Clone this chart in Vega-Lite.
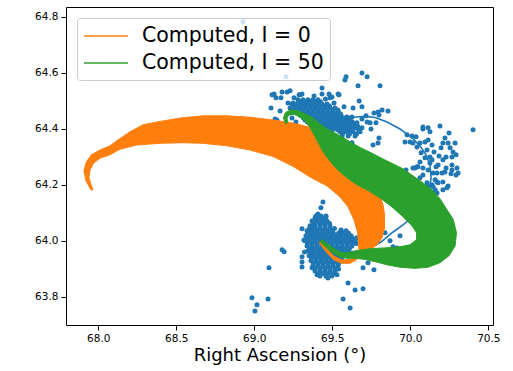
{
  "$schema": "https://vega.github.io/schema/vega-lite/v6.json",
  "width": 427,
  "height": 318,
  "autosize": {"type": "none"},
  "padding": {"left": 66, "top": 7, "right": 20, "bottom": 46},
  "background": "white",
  "config": {
    "font": "DejaVu Sans",
    "view": {"stroke": "black", "strokeWidth": 1},
    "axis": {
      "grid": false,
      "domain": false,
      "tickColor": "black",
      "tickSize": 5,
      "tickWidth": 1,
      "labelColor": "black",
      "labelFont": "DejaVu Sans",
      "labelFontSize": 10.5,
      "labelPadding": 3,
      "labelFlush": false,
      "titleFont": "DejaVu Sans",
      "titleFontWeight": "normal",
      "titleColor": "black"
    },
    "legend": {
      "orient": "none",
      "legendX": 11,
      "legendY": 11,
      "symbolType": "M-1,0H3",
      "symbolSize": 484,
      "symbolStrokeWidth": 1.6,
      "labelFont": "DejaVu Sans",
      "labelFontSize": 20.5,
      "labelColor": "black",
      "labelOffset": 35,
      "labelLimit": 400,
      "rowPadding": 4,
      "padding": 6,
      "fillColor": "rgba(255,255,255,0.8)",
      "strokeColor": "#cccccc",
      "cornerRadius": 3
    }
  },
  "datasets": {
    "stars": [
      {"ra": 68.928, "dec": 64.781}, {"ra": 69.203, "dec": 64.585}, {"ra": 69.690, "dec": 64.599}, {"ra": 69.723, "dec": 64.585},
      {"ra": 69.588, "dec": 64.585}, {"ra": 69.581, "dec": 64.574}, {"ra": 69.665, "dec": 64.553}, {"ra": 69.806, "dec": 64.553},
      {"ra": 69.434, "dec": 64.545}, {"ra": 69.293, "dec": 64.521}, {"ra": 69.485, "dec": 64.510}, {"ra": 69.543, "dec": 64.521},
      {"ra": 69.672, "dec": 64.499}, {"ra": 69.633, "dec": 64.474}, {"ra": 69.690, "dec": 64.478}, {"ra": 69.819, "dec": 64.467},
      {"ra": 69.857, "dec": 64.463}, {"ra": 69.793, "dec": 64.460}, {"ra": 69.767, "dec": 64.456}, {"ra": 69.799, "dec": 64.449},
      {"ra": 69.780, "dec": 64.421}, {"ra": 69.799, "dec": 64.367}, {"ra": 69.761, "dec": 64.342}, {"ra": 69.594, "dec": 64.442},
      {"ra": 69.658, "dec": 64.421}, {"ra": 69.614, "dec": 64.389}, {"ra": 69.626, "dec": 64.350}, {"ra": 69.569, "dec": 64.360},
      {"ra": 69.537, "dec": 64.446}, {"ra": 69.562, "dec": 64.371}, {"ra": 69.742, "dec": 64.421}, {"ra": 69.723, "dec": 64.424},
      {"ra": 69.626, "dec": 64.442}, {"ra": 69.793, "dec": 64.349}, {"ra": 69.114, "dec": 64.521}, {"ra": 69.171, "dec": 64.510},
      {"ra": 69.178, "dec": 64.531}, {"ra": 69.229, "dec": 64.535}, {"ra": 69.287, "dec": 64.521}, {"ra": 69.210, "dec": 64.531},
      {"ra": 69.127, "dec": 64.524}, {"ra": 69.107, "dec": 64.474}, {"ra": 69.145, "dec": 64.431}, {"ra": 69.178, "dec": 64.410},
      {"ra": 69.165, "dec": 64.463}, {"ra": 69.139, "dec": 64.510}, {"ra": 69.216, "dec": 64.492}, {"ra": 69.248, "dec": 64.492},
      {"ra": 69.306, "dec": 64.524}, {"ra": 69.434, "dec": 64.524}, {"ra": 69.479, "dec": 64.524}, {"ra": 69.498, "dec": 64.513},
      {"ra": 69.537, "dec": 64.524}, {"ra": 69.363, "dec": 64.496}, {"ra": 69.408, "dec": 64.492}, {"ra": 69.133, "dec": 64.435},
      {"ra": 69.145, "dec": 64.414}, {"ra": 69.242, "dec": 64.438}, {"ra": 69.267, "dec": 64.424},
      {"ra": 69.255, "dec": 64.510}, {"ra": 69.383, "dec": 64.517}, {"ra": 69.456, "dec": 64.506}, {"ra": 69.511, "dec": 64.492},
      {"ra": 69.575, "dec": 64.478}, {"ra": 69.690, "dec": 64.435}, {"ra": 69.716, "dec": 64.446}, {"ra": 69.748, "dec": 64.399},

      {"ra": 69.280, "dec": 64.503}, {"ra": 69.312, "dec": 64.503}, {"ra": 69.344, "dec": 64.503}, {"ra": 69.376, "dec": 64.503}, {"ra": 69.408, "dec": 64.503},
      {"ra": 69.242, "dec": 64.488}, {"ra": 69.274, "dec": 64.488}, {"ra": 69.306, "dec": 64.488}, {"ra": 69.338, "dec": 64.488}, {"ra": 69.370, "dec": 64.488},
      {"ra": 69.402, "dec": 64.488}, {"ra": 69.434, "dec": 64.488}, {"ra": 69.466, "dec": 64.488},
      {"ra": 69.229, "dec": 64.474}, {"ra": 69.261, "dec": 64.474}, {"ra": 69.293, "dec": 64.474}, {"ra": 69.325, "dec": 64.474}, {"ra": 69.357, "dec": 64.474},
      {"ra": 69.389, "dec": 64.474}, {"ra": 69.421, "dec": 64.474}, {"ra": 69.453, "dec": 64.474}, {"ra": 69.485, "dec": 64.474}, {"ra": 69.517, "dec": 64.474},
      {"ra": 69.280, "dec": 64.460}, {"ra": 69.312, "dec": 64.460}, {"ra": 69.344, "dec": 64.460}, {"ra": 69.376, "dec": 64.460}, {"ra": 69.408, "dec": 64.460},
      {"ra": 69.440, "dec": 64.460}, {"ra": 69.472, "dec": 64.460}, {"ra": 69.504, "dec": 64.460}, {"ra": 69.537, "dec": 64.460},
      {"ra": 69.299, "dec": 64.446}, {"ra": 69.331, "dec": 64.446}, {"ra": 69.363, "dec": 64.446}, {"ra": 69.395, "dec": 64.446}, {"ra": 69.427, "dec": 64.446},
      {"ra": 69.459, "dec": 64.446}, {"ra": 69.491, "dec": 64.446}, {"ra": 69.524, "dec": 64.446}, {"ra": 69.556, "dec": 64.446},
      {"ra": 69.325, "dec": 64.431}, {"ra": 69.357, "dec": 64.431}, {"ra": 69.389, "dec": 64.431}, {"ra": 69.421, "dec": 64.431}, {"ra": 69.453, "dec": 64.431},
      {"ra": 69.485, "dec": 64.431}, {"ra": 69.517, "dec": 64.431}, {"ra": 69.549, "dec": 64.431}, {"ra": 69.581, "dec": 64.431}, {"ra": 69.614, "dec": 64.431},
      {"ra": 69.357, "dec": 64.417}, {"ra": 69.389, "dec": 64.417}, {"ra": 69.421, "dec": 64.417}, {"ra": 69.453, "dec": 64.417}, {"ra": 69.485, "dec": 64.417},
      {"ra": 69.517, "dec": 64.417}, {"ra": 69.549, "dec": 64.417}, {"ra": 69.581, "dec": 64.417}, {"ra": 69.614, "dec": 64.417}, {"ra": 69.646, "dec": 64.417},
      {"ra": 69.453, "dec": 64.403}, {"ra": 69.485, "dec": 64.403}, {"ra": 69.517, "dec": 64.403}, {"ra": 69.549, "dec": 64.403}, {"ra": 69.581, "dec": 64.403},
      {"ra": 69.614, "dec": 64.403}, {"ra": 69.652, "dec": 64.403}, {"ra": 69.690, "dec": 64.403},
      {"ra": 69.549, "dec": 64.389}, {"ra": 69.588, "dec": 64.389}, {"ra": 69.633, "dec": 64.389}, {"ra": 69.678, "dec": 64.389},
      {"ra": 69.601, "dec": 64.374}, {"ra": 69.646, "dec": 64.374},

      {"ra": 69.296, "dec": 64.496}, {"ra": 69.328, "dec": 64.496}, {"ra": 69.360, "dec": 64.496}, {"ra": 69.392, "dec": 64.496}, {"ra": 69.424, "dec": 64.496},
      {"ra": 69.258, "dec": 64.481}, {"ra": 69.290, "dec": 64.481}, {"ra": 69.322, "dec": 64.481}, {"ra": 69.354, "dec": 64.481}, {"ra": 69.386, "dec": 64.481},
      {"ra": 69.418, "dec": 64.481}, {"ra": 69.450, "dec": 64.481}, {"ra": 69.482, "dec": 64.481},
      {"ra": 69.248, "dec": 64.467}, {"ra": 69.280, "dec": 64.467}, {"ra": 69.312, "dec": 64.467}, {"ra": 69.344, "dec": 64.467}, {"ra": 69.376, "dec": 64.467},
      {"ra": 69.408, "dec": 64.467}, {"ra": 69.440, "dec": 64.467}, {"ra": 69.472, "dec": 64.467}, {"ra": 69.504, "dec": 64.467}, {"ra": 69.536, "dec": 64.467},
      {"ra": 69.296, "dec": 64.453}, {"ra": 69.328, "dec": 64.453}, {"ra": 69.360, "dec": 64.453}, {"ra": 69.392, "dec": 64.453}, {"ra": 69.424, "dec": 64.453},
      {"ra": 69.456, "dec": 64.453}, {"ra": 69.488, "dec": 64.453}, {"ra": 69.520, "dec": 64.453}, {"ra": 69.552, "dec": 64.453},
      {"ra": 69.315, "dec": 64.438}, {"ra": 69.347, "dec": 64.438}, {"ra": 69.379, "dec": 64.438}, {"ra": 69.411, "dec": 64.438}, {"ra": 69.443, "dec": 64.438},
      {"ra": 69.475, "dec": 64.438}, {"ra": 69.507, "dec": 64.438}, {"ra": 69.539, "dec": 64.438}, {"ra": 69.571, "dec": 64.438}, {"ra": 69.603, "dec": 64.438},
      {"ra": 69.341, "dec": 64.424}, {"ra": 69.373, "dec": 64.424}, {"ra": 69.405, "dec": 64.424}, {"ra": 69.437, "dec": 64.424}, {"ra": 69.469, "dec": 64.424},
      {"ra": 69.501, "dec": 64.424}, {"ra": 69.533, "dec": 64.424}, {"ra": 69.565, "dec": 64.424}, {"ra": 69.597, "dec": 64.424}, {"ra": 69.629, "dec": 64.424},
      {"ra": 69.373, "dec": 64.410}, {"ra": 69.405, "dec": 64.410}, {"ra": 69.437, "dec": 64.410}, {"ra": 69.469, "dec": 64.410}, {"ra": 69.501, "dec": 64.410},
      {"ra": 69.533, "dec": 64.410}, {"ra": 69.565, "dec": 64.410}, {"ra": 69.597, "dec": 64.410}, {"ra": 69.630, "dec": 64.410}, {"ra": 69.662, "dec": 64.410},
      {"ra": 69.469, "dec": 64.396}, {"ra": 69.501, "dec": 64.396}, {"ra": 69.533, "dec": 64.396}, {"ra": 69.565, "dec": 64.396}, {"ra": 69.597, "dec": 64.396},
      {"ra": 69.630, "dec": 64.396}, {"ra": 69.668, "dec": 64.396},
      {"ra": 69.565, "dec": 64.381}, {"ra": 69.610, "dec": 64.381}, {"ra": 69.655, "dec": 64.381},

      {"ra": 70.402, "dec": 64.396}, {"ra": 70.190, "dec": 64.410}, {"ra": 70.114, "dec": 64.403}, {"ra": 70.081, "dec": 64.399},
      {"ra": 70.126, "dec": 64.389}, {"ra": 70.248, "dec": 64.385}, {"ra": 70.222, "dec": 64.367}, {"ra": 70.287, "dec": 64.349},
      {"ra": 70.209, "dec": 64.349}, {"ra": 70.255, "dec": 64.332}, {"ra": 70.197, "dec": 64.332}, {"ra": 70.274, "dec": 64.317},
      {"ra": 70.229, "dec": 64.299}, {"ra": 70.293, "dec": 64.307}, {"ra": 70.267, "dec": 64.271}, {"ra": 70.229, "dec": 64.260},
      {"ra": 70.299, "dec": 64.260}, {"ra": 70.293, "dec": 64.235}, {"ra": 70.203, "dec": 64.242}, {"ra": 70.242, "dec": 64.196},
      {"ra": 70.209, "dec": 64.210}, {"ra": 70.178, "dec": 64.271}, {"ra": 70.139, "dec": 64.289}, {"ra": 70.159, "dec": 64.218},
      {"ra": 70.139, "dec": 64.200}, {"ra": 70.114, "dec": 64.193}, {"ra": 70.159, "dec": 64.182}, {"ra": 70.171, "dec": 64.171},
      {"ra": 70.107, "dec": 64.175}, {"ra": 70.081, "dec": 64.235}, {"ra": 70.062, "dec": 64.225}, {"ra": 70.043, "dec": 64.264},
      {"ra": 70.030, "dec": 64.260}, {"ra": 70.081, "dec": 64.260}, {"ra": 70.062, "dec": 64.281}, {"ra": 70.094, "dec": 64.296},
      {"ra": 70.126, "dec": 64.299}, {"ra": 70.043, "dec": 64.335}, {"ra": 70.062, "dec": 64.349}, {"ra": 70.094, "dec": 64.353},
      {"ra": 70.114, "dec": 64.360}, {"ra": 70.017, "dec": 64.349}, {"ra": 69.966, "dec": 64.353}, {"ra": 69.979, "dec": 64.378},
      {"ra": 70.011, "dec": 64.374}, {"ra": 70.037, "dec": 64.371}, {"ra": 70.139, "dec": 64.342}, {"ra": 70.107, "dec": 64.324},
      {"ra": 70.126, "dec": 64.278}, {"ra": 70.114, "dec": 64.253}, {"ra": 70.146, "dec": 64.242}, {"ra": 69.972, "dec": 64.253},
      {"ra": 70.081, "dec": 64.406}, {"ra": 70.242, "dec": 64.349}, {"ra": 70.267, "dec": 64.299}, {"ra": 70.209, "dec": 64.289},
      {"ra": 70.049, "dec": 64.264}, {"ra": 70.017, "dec": 64.260}, {"ra": 70.171, "dec": 64.242}, {"ra": 70.306, "dec": 64.242},
      {"ra": 70.267, "dec": 64.253}, {"ra": 70.171, "dec": 64.210}, {"ra": 70.209, "dec": 64.182}, {"ra": 70.235, "dec": 64.189},
      {"ra": 70.126, "dec": 64.164}, {"ra": 69.806, "dec": 64.278}, {"ra": 69.851, "dec": 64.271}, {"ra": 70.069, "dec": 64.314},
      {"ra": 70.165, "dec": 64.264}, {"ra": 70.222, "dec": 64.246}, {"ra": 70.261, "dec": 64.239}, {"ra": 70.107, "dec": 64.207},
      {"ra": 70.146, "dec": 64.193}, {"ra": 70.178, "dec": 64.207}, {"ra": 69.998, "dec": 64.353}, {"ra": 70.152, "dec": 64.317},
      {"ra": 70.184, "dec": 64.303},

      {"ra": 69.838, "dec": 64.029}, {"ra": 69.915, "dec": 63.975}, {"ra": 69.870, "dec": 64.000}, {"ra": 69.934, "dec": 64.018},
      {"ra": 69.889, "dec": 63.979}, {"ra": 69.697, "dec": 64.004},
      {"ra": 69.440, "dec": 64.139}, {"ra": 69.427, "dec": 64.118}, {"ra": 69.459, "dec": 64.086}, {"ra": 69.389, "dec": 64.082},
      {"ra": 69.376, "dec": 64.068}, {"ra": 69.434, "dec": 64.064}, {"ra": 69.376, "dec": 64.050}, {"ra": 69.306, "dec": 64.043},
      {"ra": 69.556, "dec": 64.039}, {"ra": 69.594, "dec": 64.029}, {"ra": 69.614, "dec": 64.014}, {"ra": 69.658, "dec": 64.011},
      {"ra": 69.633, "dec": 63.997}, {"ra": 69.178, "dec": 63.968}, {"ra": 69.191, "dec": 63.961}, {"ra": 69.306, "dec": 63.943},
      {"ra": 69.306, "dec": 63.925}, {"ra": 69.094, "dec": 63.904}, {"ra": 69.306, "dec": 63.907}, {"ra": 69.370, "dec": 63.904},
      {"ra": 69.402, "dec": 63.879}, {"ra": 69.472, "dec": 63.868}, {"ra": 69.530, "dec": 63.879}, {"ra": 69.697, "dec": 63.904},
      {"ra": 69.729, "dec": 63.922}, {"ra": 69.767, "dec": 63.897}, {"ra": 69.601, "dec": 63.850}, {"ra": 69.646, "dec": 63.825},
      {"ra": 69.697, "dec": 63.829}, {"ra": 69.569, "dec": 63.793}, {"ra": 69.614, "dec": 63.761}, {"ra": 68.985, "dec": 63.797},
      {"ra": 69.017, "dec": 63.772}, {"ra": 69.004, "dec": 63.750}, {"ra": 69.088, "dec": 63.793}, {"ra": 69.408, "dec": 64.096},
      {"ra": 69.344, "dec": 64.029}, {"ra": 69.318, "dec": 64.003}, {"ra": 69.322, "dec": 63.960}, {"ra": 69.540, "dec": 63.900},

      {"ra": 69.395, "dec": 64.089}, {"ra": 69.427, "dec": 64.089}, {"ra": 69.459, "dec": 64.089},
      {"ra": 69.370, "dec": 64.071}, {"ra": 69.402, "dec": 64.071}, {"ra": 69.434, "dec": 64.071}, {"ra": 69.466, "dec": 64.071},
      {"ra": 69.357, "dec": 64.054}, {"ra": 69.389, "dec": 64.054}, {"ra": 69.421, "dec": 64.054}, {"ra": 69.453, "dec": 64.054}, {"ra": 69.485, "dec": 64.054},
      {"ra": 69.338, "dec": 64.036}, {"ra": 69.370, "dec": 64.036}, {"ra": 69.402, "dec": 64.036}, {"ra": 69.434, "dec": 64.036}, {"ra": 69.466, "dec": 64.036},
      {"ra": 69.498, "dec": 64.036}, {"ra": 69.556, "dec": 64.036}, {"ra": 69.588, "dec": 64.036},
      {"ra": 69.331, "dec": 64.018}, {"ra": 69.363, "dec": 64.018}, {"ra": 69.395, "dec": 64.018}, {"ra": 69.427, "dec": 64.018}, {"ra": 69.459, "dec": 64.018},
      {"ra": 69.491, "dec": 64.018}, {"ra": 69.524, "dec": 64.018}, {"ra": 69.556, "dec": 64.018}, {"ra": 69.588, "dec": 64.018}, {"ra": 69.620, "dec": 64.018},
      {"ra": 69.325, "dec": 64.000}, {"ra": 69.357, "dec": 64.000}, {"ra": 69.389, "dec": 64.000}, {"ra": 69.421, "dec": 64.000}, {"ra": 69.453, "dec": 64.000},
      {"ra": 69.485, "dec": 64.000}, {"ra": 69.517, "dec": 64.000}, {"ra": 69.549, "dec": 64.000}, {"ra": 69.581, "dec": 64.000}, {"ra": 69.614, "dec": 64.000},
      {"ra": 69.646, "dec": 64.000},
      {"ra": 69.338, "dec": 63.982}, {"ra": 69.370, "dec": 63.982}, {"ra": 69.402, "dec": 63.982}, {"ra": 69.434, "dec": 63.982}, {"ra": 69.466, "dec": 63.982},
      {"ra": 69.498, "dec": 63.982}, {"ra": 69.530, "dec": 63.982}, {"ra": 69.562, "dec": 63.982}, {"ra": 69.594, "dec": 63.982}, {"ra": 69.626, "dec": 63.982},
      {"ra": 69.344, "dec": 63.964}, {"ra": 69.376, "dec": 63.964}, {"ra": 69.408, "dec": 63.964}, {"ra": 69.440, "dec": 63.964}, {"ra": 69.472, "dec": 63.964},
      {"ra": 69.504, "dec": 63.964}, {"ra": 69.537, "dec": 63.964}, {"ra": 69.569, "dec": 63.964}, {"ra": 69.601, "dec": 63.964},
      {"ra": 69.351, "dec": 63.947}, {"ra": 69.383, "dec": 63.947}, {"ra": 69.415, "dec": 63.947}, {"ra": 69.447, "dec": 63.947}, {"ra": 69.479, "dec": 63.947},
      {"ra": 69.511, "dec": 63.947}, {"ra": 69.543, "dec": 63.947}, {"ra": 69.575, "dec": 63.947},
      {"ra": 69.363, "dec": 63.929}, {"ra": 69.395, "dec": 63.929}, {"ra": 69.427, "dec": 63.929}, {"ra": 69.459, "dec": 63.929}, {"ra": 69.491, "dec": 63.929},
      {"ra": 69.524, "dec": 63.929}, {"ra": 69.556, "dec": 63.929},
      {"ra": 69.376, "dec": 63.911}, {"ra": 69.408, "dec": 63.911}, {"ra": 69.440, "dec": 63.911}, {"ra": 69.472, "dec": 63.911}, {"ra": 69.504, "dec": 63.911},
      {"ra": 69.537, "dec": 63.911},
      {"ra": 69.389, "dec": 63.893}, {"ra": 69.421, "dec": 63.893}, {"ra": 69.453, "dec": 63.893}, {"ra": 69.485, "dec": 63.893}, {"ra": 69.517, "dec": 63.893},
      {"ra": 69.421, "dec": 63.875}, {"ra": 69.459, "dec": 63.875}, {"ra": 69.498, "dec": 63.875},

      {"ra": 69.411, "dec": 64.080}, {"ra": 69.443, "dec": 64.080},
      {"ra": 69.386, "dec": 64.062}, {"ra": 69.418, "dec": 64.062}, {"ra": 69.450, "dec": 64.062}, {"ra": 69.482, "dec": 64.062},
      {"ra": 69.354, "dec": 64.044}, {"ra": 69.386, "dec": 64.044}, {"ra": 69.418, "dec": 64.044}, {"ra": 69.450, "dec": 64.044}, {"ra": 69.482, "dec": 64.044},
      {"ra": 69.514, "dec": 64.044},
      {"ra": 69.347, "dec": 64.027}, {"ra": 69.379, "dec": 64.027}, {"ra": 69.411, "dec": 64.027}, {"ra": 69.443, "dec": 64.027}, {"ra": 69.475, "dec": 64.027},
      {"ra": 69.507, "dec": 64.027}, {"ra": 69.540, "dec": 64.027}, {"ra": 69.572, "dec": 64.027}, {"ra": 69.604, "dec": 64.027},
      {"ra": 69.341, "dec": 64.009}, {"ra": 69.373, "dec": 64.009}, {"ra": 69.405, "dec": 64.009}, {"ra": 69.437, "dec": 64.009}, {"ra": 69.469, "dec": 64.009},
      {"ra": 69.501, "dec": 64.009}, {"ra": 69.533, "dec": 64.009}, {"ra": 69.565, "dec": 64.009}, {"ra": 69.597, "dec": 64.009}, {"ra": 69.630, "dec": 64.009},
      {"ra": 69.341, "dec": 63.991}, {"ra": 69.373, "dec": 63.991}, {"ra": 69.405, "dec": 63.991}, {"ra": 69.437, "dec": 63.991}, {"ra": 69.469, "dec": 63.991},
      {"ra": 69.501, "dec": 63.991}, {"ra": 69.533, "dec": 63.991}, {"ra": 69.565, "dec": 63.991}, {"ra": 69.597, "dec": 63.991}, {"ra": 69.630, "dec": 63.991},
      {"ra": 69.655, "dec": 63.991},
      {"ra": 69.354, "dec": 63.973}, {"ra": 69.386, "dec": 63.973}, {"ra": 69.418, "dec": 63.973}, {"ra": 69.450, "dec": 63.973}, {"ra": 69.482, "dec": 63.973},
      {"ra": 69.514, "dec": 63.973}, {"ra": 69.546, "dec": 63.973}, {"ra": 69.578, "dec": 63.973}, {"ra": 69.610, "dec": 63.973},
      {"ra": 69.360, "dec": 63.955}, {"ra": 69.392, "dec": 63.955}, {"ra": 69.424, "dec": 63.955}, {"ra": 69.456, "dec": 63.955}, {"ra": 69.488, "dec": 63.955},
      {"ra": 69.520, "dec": 63.955}, {"ra": 69.552, "dec": 63.955}, {"ra": 69.584, "dec": 63.955},
      {"ra": 69.367, "dec": 63.938}, {"ra": 69.399, "dec": 63.938}, {"ra": 69.431, "dec": 63.938}, {"ra": 69.463, "dec": 63.938}, {"ra": 69.495, "dec": 63.938},
      {"ra": 69.527, "dec": 63.938}, {"ra": 69.559, "dec": 63.938},
      {"ra": 69.379, "dec": 63.920}, {"ra": 69.411, "dec": 63.920}, {"ra": 69.443, "dec": 63.920}, {"ra": 69.475, "dec": 63.920}, {"ra": 69.507, "dec": 63.920},
      {"ra": 69.540, "dec": 63.920},
      {"ra": 69.392, "dec": 63.902}, {"ra": 69.424, "dec": 63.902}, {"ra": 69.456, "dec": 63.902}, {"ra": 69.488, "dec": 63.902}, {"ra": 69.520, "dec": 63.902},
      {"ra": 69.411, "dec": 63.884}, {"ra": 69.443, "dec": 63.884}, {"ra": 69.475, "dec": 63.884}, {"ra": 69.507, "dec": 63.884}
    ],
    "orbit": [
      {"i": 0, "ra": 69.485, "dec": 64.410}, {"i": 1, "ra": 69.517, "dec": 64.417}, {"i": 2, "ra": 69.581, "dec": 64.435},
      {"i": 3, "ra": 69.646, "dec": 64.442}, {"i": 4, "ra": 69.710, "dec": 64.444}, {"i": 5, "ra": 69.774, "dec": 64.440},
      {"i": 6, "ra": 69.851, "dec": 64.424}, {"i": 7, "ra": 69.934, "dec": 64.399}, {"i": 8, "ra": 70.011, "dec": 64.367},
      {"i": 9, "ra": 70.062, "dec": 64.339}, {"i": 10, "ra": 70.101, "dec": 64.307}, {"i": 11, "ra": 70.126, "dec": 64.271},
      {"i": 12, "ra": 70.133, "dec": 64.225}, {"i": 13, "ra": 70.120, "dec": 64.175}, {"i": 14, "ra": 70.081, "dec": 64.128},
      {"i": 15, "ra": 70.024, "dec": 64.089}, {"i": 16, "ra": 69.953, "dec": 64.057}, {"i": 17, "ra": 69.883, "dec": 64.029},
      {"i": 18, "ra": 69.812, "dec": 63.996}, {"i": 19, "ra": 69.742, "dec": 63.975}, {"i": 20, "ra": 69.678, "dec": 63.964},
      {"i": 21, "ra": 69.614, "dec": 63.961}, {"i": 22, "ra": 69.549, "dec": 63.964}
    ],
    "tracks": [
      {"run": "Computed, I = 0", "i": 1, "ra": 67.953, "dec": 64.182},
      {"run": "Computed, I = 0", "i": 2, "ra": 67.921, "dec": 64.214},
      {"run": "Computed, I = 0", "i": 3, "ra": 67.908, "dec": 64.250},
      {"run": "Computed, I = 0", "i": 4, "ra": 67.924, "dec": 64.282},
      {"run": "Computed, I = 0", "i": 5, "ra": 67.956, "dec": 64.307},
      {"run": "Computed, I = 0", "i": 6, "ra": 68.011, "dec": 64.324},
      {"run": "Computed, I = 0", "i": 7, "ra": 68.075, "dec": 64.339},
      {"run": "Computed, I = 0", "i": 8, "ra": 68.126, "dec": 64.360},
      {"run": "Computed, I = 0", "i": 9, "ra": 68.203, "dec": 64.389},
      {"run": "Computed, I = 0", "i": 10, "ra": 68.287, "dec": 64.414},
      {"run": "Computed, I = 0", "i": 11, "ra": 68.396, "dec": 64.426},
      {"run": "Computed, I = 0", "i": 12, "ra": 68.524, "dec": 64.438},
      {"run": "Computed, I = 0", "i": 13, "ra": 68.671, "dec": 64.446},
      {"run": "Computed, I = 0", "i": 14, "ra": 68.825, "dec": 64.446},
      {"run": "Computed, I = 0", "i": 15, "ra": 68.972, "dec": 64.441},
      {"run": "Computed, I = 0", "i": 16, "ra": 69.120, "dec": 64.431},
      {"run": "Computed, I = 0", "i": 17, "ra": 69.248, "dec": 64.420},
      {"run": "Computed, I = 0", "i": 18, "ra": 69.357, "dec": 64.405},
      {"run": "Computed, I = 0", "i": 19, "ra": 69.485, "dec": 64.378},
      {"run": "Computed, I = 0", "i": 20, "ra": 69.614, "dec": 64.339},
      {"run": "Computed, I = 0", "i": 21, "ra": 69.710, "dec": 64.289},
      {"run": "Computed, I = 0", "i": 22, "ra": 69.767, "dec": 64.235},
      {"run": "Computed, I = 0", "i": 23, "ra": 69.799, "dec": 64.175},
      {"run": "Computed, I = 0", "i": 24, "ra": 69.825, "dec": 64.128},
      {"run": "Computed, I = 0", "i": 25, "ra": 69.835, "dec": 64.093},
      {"run": "Computed, I = 0", "i": 26, "ra": 69.835, "dec": 64.046},
      {"run": "Computed, I = 0", "i": 27, "ra": 69.819, "dec": 64.011},
      {"run": "Computed, I = 0", "i": 28, "ra": 69.787, "dec": 63.986},
      {"run": "Computed, I = 0", "i": 29, "ra": 69.742, "dec": 63.968},
      {"run": "Computed, I = 0", "i": 30, "ra": 69.690, "dec": 63.950},
      {"run": "Computed, I = 0", "i": 31, "ra": 69.652, "dec": 63.932},
      {"run": "Computed, I = 0", "i": 32, "ra": 69.614, "dec": 63.920},
      {"run": "Computed, I = 0", "i": 33, "ra": 69.562, "dec": 63.920},
      {"run": "Computed, I = 0", "i": 34, "ra": 69.511, "dec": 63.932},
      {"run": "Computed, I = 0", "i": 35, "ra": 69.466, "dec": 63.957},
      {"run": "Computed, I = 0", "i": 36, "ra": 69.431, "dec": 63.982},
      {"run": "Computed, I = 0", "i": 37, "ra": 69.418, "dec": 63.995},
      {"run": "Computed, I = 0", "i": 38, "ra": 69.434, "dec": 63.995},
      {"run": "Computed, I = 0", "i": 39, "ra": 69.466, "dec": 63.970},
      {"run": "Computed, I = 0", "i": 40, "ra": 69.511, "dec": 63.945},
      {"run": "Computed, I = 0", "i": 41, "ra": 69.562, "dec": 63.932},
      {"run": "Computed, I = 0", "i": 42, "ra": 69.614, "dec": 63.934},
      {"run": "Computed, I = 0", "i": 43, "ra": 69.652, "dec": 63.948},
      {"run": "Computed, I = 0", "i": 44, "ra": 69.671, "dec": 63.968},
      {"run": "Computed, I = 0", "i": 45, "ra": 69.668, "dec": 63.993},
      {"run": "Computed, I = 0", "i": 46, "ra": 69.662, "dec": 64.029},
      {"run": "Computed, I = 0", "i": 47, "ra": 69.639, "dec": 64.075},
      {"run": "Computed, I = 0", "i": 48, "ra": 69.601, "dec": 64.121},
      {"run": "Computed, I = 0", "i": 49, "ra": 69.549, "dec": 64.157},
      {"run": "Computed, I = 0", "i": 50, "ra": 69.466, "dec": 64.196},
      {"run": "Computed, I = 0", "i": 51, "ra": 69.357, "dec": 64.228},
      {"run": "Computed, I = 0", "i": 52, "ra": 69.248, "dec": 64.266},
      {"run": "Computed, I = 0", "i": 53, "ra": 69.120, "dec": 64.301},
      {"run": "Computed, I = 0", "i": 54, "ra": 68.972, "dec": 64.324},
      {"run": "Computed, I = 0", "i": 55, "ra": 68.825, "dec": 64.339},
      {"run": "Computed, I = 0", "i": 56, "ra": 68.671, "dec": 64.348},
      {"run": "Computed, I = 0", "i": 57, "ra": 68.543, "dec": 64.350},
      {"run": "Computed, I = 0", "i": 58, "ra": 68.396, "dec": 64.348},
      {"run": "Computed, I = 0", "i": 59, "ra": 68.248, "dec": 64.342},
      {"run": "Computed, I = 0", "i": 60, "ra": 68.139, "dec": 64.327},
      {"run": "Computed, I = 0", "i": 61, "ra": 68.075, "dec": 64.307},
      {"run": "Computed, I = 0", "i": 62, "ra": 68.011, "dec": 64.295},
      {"run": "Computed, I = 0", "i": 63, "ra": 67.969, "dec": 64.277},
      {"run": "Computed, I = 0", "i": 64, "ra": 67.947, "dec": 64.253},
      {"run": "Computed, I = 0", "i": 65, "ra": 67.940, "dec": 64.225},
      {"run": "Computed, I = 0", "i": 66, "ra": 67.956, "dec": 64.196},
      {"run": "Computed, I = 0", "i": 67, "ra": 67.966, "dec": 64.182},

      {"run": "Computed, I = 50", "i": 1, "ra": 69.200, "dec": 64.417},
      {"run": "Computed, I = 50", "i": 2, "ra": 69.187, "dec": 64.439},
      {"run": "Computed, I = 50", "i": 3, "ra": 69.200, "dec": 64.458},
      {"run": "Computed, I = 50", "i": 4, "ra": 69.235, "dec": 64.467},
      {"run": "Computed, I = 50", "i": 5, "ra": 69.274, "dec": 64.465},
      {"run": "Computed, I = 50", "i": 6, "ra": 69.312, "dec": 64.456},
      {"run": "Computed, I = 50", "i": 7, "ra": 69.376, "dec": 64.439},
      {"run": "Computed, I = 50", "i": 8, "ra": 69.421, "dec": 64.417},
      {"run": "Computed, I = 50", "i": 9, "ra": 69.466, "dec": 64.399},
      {"run": "Computed, I = 50", "i": 10, "ra": 69.530, "dec": 64.381},
      {"run": "Computed, I = 50", "i": 11, "ra": 69.614, "dec": 64.353},
      {"run": "Computed, I = 50", "i": 12, "ra": 69.678, "dec": 64.333},
      {"run": "Computed, I = 50", "i": 13, "ra": 69.742, "dec": 64.316},
      {"run": "Computed, I = 50", "i": 14, "ra": 69.825, "dec": 64.292},
      {"run": "Computed, I = 50", "i": 15, "ra": 69.953, "dec": 64.257},
      {"run": "Computed, I = 50", "i": 16, "ra": 70.081, "dec": 64.207},
      {"run": "Computed, I = 50", "i": 17, "ra": 70.146, "dec": 64.178},
      {"run": "Computed, I = 50", "i": 18, "ra": 70.190, "dec": 64.150},
      {"run": "Computed, I = 50", "i": 19, "ra": 70.235, "dec": 64.111},
      {"run": "Computed, I = 50", "i": 20, "ra": 70.274, "dec": 64.078},
      {"run": "Computed, I = 50", "i": 21, "ra": 70.296, "dec": 64.029},
      {"run": "Computed, I = 50", "i": 22, "ra": 70.287, "dec": 63.982},
      {"run": "Computed, I = 50", "i": 23, "ra": 70.248, "dec": 63.947},
      {"run": "Computed, I = 50", "i": 24, "ra": 70.190, "dec": 63.922},
      {"run": "Computed, I = 50", "i": 25, "ra": 70.114, "dec": 63.906},
      {"run": "Computed, I = 50", "i": 26, "ra": 70.030, "dec": 63.902},
      {"run": "Computed, I = 50", "i": 27, "ra": 69.934, "dec": 63.906},
      {"run": "Computed, I = 50", "i": 28, "ra": 69.857, "dec": 63.914},
      {"run": "Computed, I = 50", "i": 29, "ra": 69.780, "dec": 63.925},
      {"run": "Computed, I = 50", "i": 30, "ra": 69.710, "dec": 63.934},
      {"run": "Computed, I = 50", "i": 31, "ra": 69.646, "dec": 63.938},
      {"run": "Computed, I = 50", "i": 32, "ra": 69.594, "dec": 63.938},
      {"run": "Computed, I = 50", "i": 33, "ra": 69.549, "dec": 63.943},
      {"run": "Computed, I = 50", "i": 34, "ra": 69.498, "dec": 63.959},
      {"run": "Computed, I = 50", "i": 35, "ra": 69.453, "dec": 63.980},
      {"run": "Computed, I = 50", "i": 36, "ra": 69.421, "dec": 63.998},
      {"run": "Computed, I = 50", "i": 37, "ra": 69.434, "dec": 64.004},
      {"run": "Computed, I = 50", "i": 38, "ra": 69.485, "dec": 63.982},
      {"run": "Computed, I = 50", "i": 39, "ra": 69.549, "dec": 63.959},
      {"run": "Computed, I = 50", "i": 40, "ra": 69.614, "dec": 63.959},
      {"run": "Computed, I = 50", "i": 41, "ra": 69.665, "dec": 63.966},
      {"run": "Computed, I = 50", "i": 42, "ra": 69.742, "dec": 63.972},
      {"run": "Computed, I = 50", "i": 43, "ra": 69.838, "dec": 63.975},
      {"run": "Computed, I = 50", "i": 44, "ra": 69.934, "dec": 63.979},
      {"run": "Computed, I = 50", "i": 45, "ra": 69.998, "dec": 63.986},
      {"run": "Computed, I = 50", "i": 46, "ra": 70.040, "dec": 64.004},
      {"run": "Computed, I = 50", "i": 47, "ra": 70.040, "dec": 64.029},
      {"run": "Computed, I = 50", "i": 48, "ra": 70.011, "dec": 64.054},
      {"run": "Computed, I = 50", "i": 49, "ra": 69.953, "dec": 64.086},
      {"run": "Computed, I = 50", "i": 50, "ra": 69.883, "dec": 64.121},
      {"run": "Computed, I = 50", "i": 51, "ra": 69.806, "dec": 64.153},
      {"run": "Computed, I = 50", "i": 52, "ra": 69.729, "dec": 64.180},
      {"run": "Computed, I = 50", "i": 53, "ra": 69.658, "dec": 64.200},
      {"run": "Computed, I = 50", "i": 54, "ra": 69.594, "dec": 64.225},
      {"run": "Computed, I = 50", "i": 55, "ra": 69.549, "dec": 64.246},
      {"run": "Computed, I = 50", "i": 56, "ra": 69.505, "dec": 64.271},
      {"run": "Computed, I = 50", "i": 57, "ra": 69.466, "dec": 64.298},
      {"run": "Computed, I = 50", "i": 58, "ra": 69.434, "dec": 64.324},
      {"run": "Computed, I = 50", "i": 59, "ra": 69.408, "dec": 64.353},
      {"run": "Computed, I = 50", "i": 60, "ra": 69.383, "dec": 64.378},
      {"run": "Computed, I = 50", "i": 61, "ra": 69.357, "dec": 64.405},
      {"run": "Computed, I = 50", "i": 62, "ra": 69.325, "dec": 64.428},
      {"run": "Computed, I = 50", "i": 63, "ra": 69.293, "dec": 64.442},
      {"run": "Computed, I = 50", "i": 64, "ra": 69.255, "dec": 64.451},
      {"run": "Computed, I = 50", "i": 65, "ra": 69.223, "dec": 64.449},
      {"run": "Computed, I = 50", "i": 66, "ra": 69.210, "dec": 64.439},
      {"run": "Computed, I = 50", "i": 67, "ra": 69.213, "dec": 64.421}
    ]
  },
  "encoding": {
    "x": {
      "type": "quantitative",
      "scale": {"domain": [67.793, 70.530], "nice": false, "zero": false},
      "axis": {
        "title": "Right Ascension (°)",
        "titleFontSize": 18,
        "titlePadding": 3,
        "values": [68, 68.5, 69, 69.5, 70, 70.5],
        "format": ".1f"
      }
    },
    "y": {
      "type": "quantitative",
      "scale": {"domain": [63.700, 64.834], "nice": false, "zero": false},
      "axis": {
        "title": null,
        "values": [63.8, 64.0, 64.2, 64.4, 64.6, 64.8],
        "format": ".1f"
      }
    }
  },
  "layer": [
    {
      "data": {"name": "stars"},
      "mark": {"type": "circle", "size": 25, "color": "#1f77b4", "opacity": 1, "clip": true},
      "encoding": {
        "x": {"field": "ra", "type": "quantitative"},
        "y": {"field": "dec", "type": "quantitative"}
      }
    },
    {
      "data": {"name": "orbit"},
      "mark": {"type": "line", "color": "#1f77b4", "strokeWidth": 1.6, "clip": true},
      "encoding": {
        "x": {"field": "ra", "type": "quantitative"},
        "y": {"field": "dec", "type": "quantitative"},
        "order": {"field": "i", "type": "quantitative"}
      }
    },
    {
      "data": {"name": "tracks"},
      "mark": {"type": "line", "interpolate": "linear-closed", "strokeWidth": 1, "clip": true},
      "encoding": {
        "x": {"field": "ra", "type": "quantitative"},
        "y": {"field": "dec", "type": "quantitative"},
        "order": {"field": "i", "type": "quantitative"},
        "fill": {
          "field": "run",
          "type": "nominal",
          "title": null,
          "scale": {"domain": ["Computed, I = 0", "Computed, I = 50"], "range": ["#ff7f0e", "#2ca02c"]}
        },
        "stroke": {
          "field": "run",
          "type": "nominal",
          "title": null,
          "scale": {"domain": ["Computed, I = 0", "Computed, I = 50"], "range": ["#ff7f0e", "#2ca02c"]}
        }
      }
    }
  ]
}
